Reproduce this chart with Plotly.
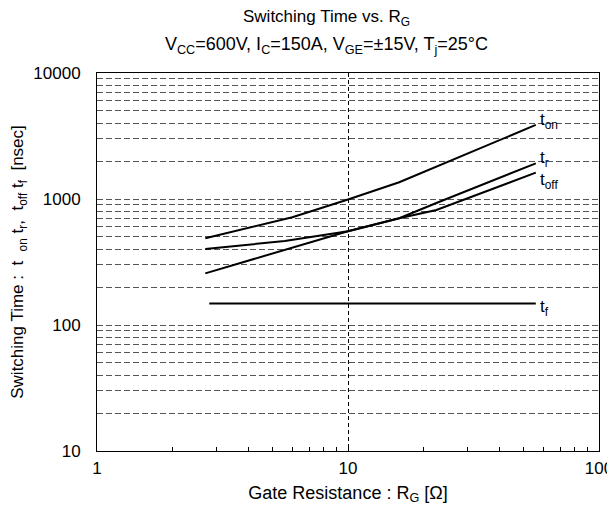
import math
import plotly.graph_objects as go

# Data
rg_on = [2.7, 6, 10, 16, 56]
t_on = [488, 716, 990, 1357, 3870]

rg_r = [2.7, 10, 16, 22.5, 56]
t_r = [257, 555, 703, 930, 1918]

rg_off = [2.7, 5.6, 10, 16, 22.5, 56]
t_off = [401, 464, 555, 703, 818, 1618]

rg_f = [2.8, 56]
t_f = [148, 148]

labels = ["t<sub>on</sub>", "t<sub>r</sub>", "t<sub>off</sub>", "t<sub>f</sub>"]

FONT = "Liberation Sans, Arial, sans-serif"
fig = go.Figure()
series = [(rg_on, t_on), (rg_r, t_r), (rg_off, t_off), (rg_f, t_f)]
yoffsets = [4, 4, -8, -4]
for (xs, ys), lab, yo in zip(series, labels, yoffsets):
    fig.add_trace(go.Scatter(x=xs, y=ys, mode="lines",
                             line=dict(color="black", width=2), showlegend=False))
    fig.add_annotation(x=math.log10(xs[-1]), y=math.log10(ys[-1]), xref="x", yref="y", text=lab,
                       showarrow=False, xanchor="left", yanchor="middle", xshift=2, yshift=yo,
                       font=dict(family=FONT, size=17, color="black"))

fig.add_annotation(x=0.458, y=1, xref="paper", yref="paper", yshift=55, yanchor="middle",
                   text="Switching Time vs. R<sub>G</sub>", showarrow=False,
                   font=dict(family=FONT, size=17, color="black"))
fig.add_annotation(x=0.458, y=1, xref="paper", yref="paper", yshift=28, yanchor="middle",
                   text="V<sub>CC</sub>=600V, I<sub>C</sub>=150A, V<sub>GE</sub>=±15V, T<sub>j</sub>=25°C",
                   showarrow=False, font=dict(family=FONT, size=18, color="black"))

fig.update_layout(
    width=607, height=501,
    margin=dict(l=89, r=16, t=65, b=58, autoexpand=False),
    paper_bgcolor="white", plot_bgcolor="white",
    font=dict(family=FONT, size=17, color="black"),
    xaxis=dict(type="log", range=[0, 2], tickvals=[1, 10, 100], ticktext=["1", "10", "100"],
               ticks="inside", ticklen=6, tickcolor="black", automargin=False,
               showgrid=True, gridcolor="black", griddash="4px,3px", gridwidth=1,
               showline=True, linecolor="black", linewidth=1, mirror=True,
               zeroline=False, ticklabelstandoff=2,
               minor=dict(dtick="D1", ticks="inside", ticklen=4, tickcolor="black", showgrid=False),
               title=dict(text="Gate Resistance : R<sub>G</sub> [Ω]", standoff=8,
                          font=dict(family=FONT, size=18))),
    yaxis=dict(type="log", range=[1, 4], tickvals=[10, 100, 1000, 10000],
               ticktext=["10", "100", "1000", "10000"], automargin=False,
               ticks="", showgrid=True, gridcolor="#555", griddash="6px,3px", gridwidth=1,
               showline=True, linecolor="black", linewidth=1, mirror=True,
               zeroline=False, ticklabelstandoff=12,
               minor=dict(dtick="D1", showgrid=True, gridcolor="#555", griddash="6px,3px", gridwidth=1),
               title=dict(text="Switching Time :  t  <sub>on</sub> t<sub>r</sub>,  t<sub>off</sub> t<sub>f</sub>  [nsec]",
                          standoff=5, font=dict(family=FONT, size=17))),
)

fig.write_html("out.html")
